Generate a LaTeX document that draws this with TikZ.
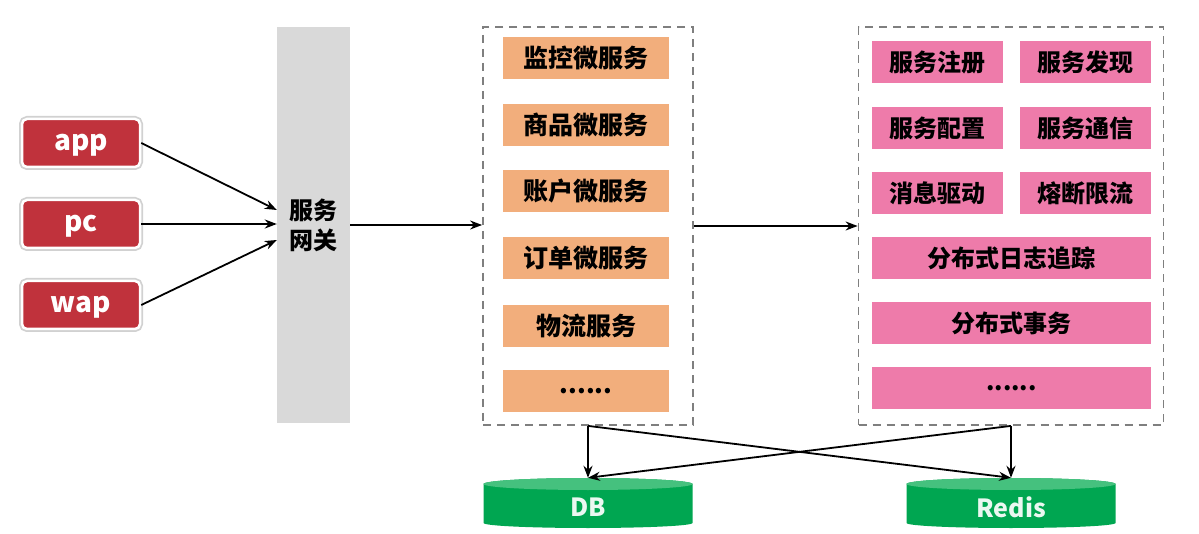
\documentclass[tikz,border=0pt]{standalone}
\usepackage{fontspec}
\setmainfont{Noto Sans CJK SC}
\usetikzlibrary{arrows.meta}
\definecolor{clientred}{HTML}{C0323C}
\definecolor{gwgray}{HTML}{D9D9D9}
\definecolor{svcorange}{HTML}{F2AE7C}
\definecolor{cmppink}{HTML}{EE7BAA}
\definecolor{dbgreen}{HTML}{00A651}
\definecolor{dbtop}{HTML}{45C17E}
\definecolor{dashgray}{HTML}{7F7F7F}
\begin{document}
\begin{tikzpicture}[x=1pt,y=-1pt,
  client/.style={rounded corners=5pt, fill=clientred, draw=white, line width=2.5pt,
    preaction={draw=black!18, line width=6pt, rounded corners=5pt},
    minimum width=118pt, minimum height=48pt, inner sep=0pt,
    text height=22pt, text depth=7pt,
    text=white, font=\fontsize{28}{32}\selectfont\bfseries},
  gateway/.style={fill=gwgray, minimum width=73pt, minimum height=396pt, inner sep=0pt,
    align=center, font=\fontsize{24}{30}\selectfont\bfseries},
  group/.style={draw=dashgray, line width=1.8pt, dash pattern=on 8pt off 6pt, inner sep=0pt},
  svc/.style={fill=svcorange, minimum width=166pt, minimum height=42pt, inner sep=0pt,
    font=\fontsize{25}{30}\selectfont\bfseries},
  cmp/.style={fill=cmppink, minimum height=42pt, inner sep=0pt,
    font=\fontsize{24}{30}\selectfont\bfseries},
  store/.style={minimum width=209pt, minimum height=50pt, inner sep=0pt},
  storetext/.style={text=white!92!dbgreen, font=\fontsize{25}{30}\selectfont\bfseries},
  arr/.style={-{Stealth[length=12pt,width=9pt]}, line width=1.8pt, black}
]
\useasboundingbox[fill=white] (0,0) rectangle (1199,534);

% clients
\node[client] (app) at (81,143) {app};
\node[client] (pc)  at (81,224) {pc};
\node[client] (wap) at (81,305) {wap};

% gateway
\node[gateway] (gw) at (313.5,225) {服务\\网关};

% middle group
\node[group, minimum width=210pt, minimum height=398pt] (mid) at (588,226) {};
\node[svc] (s1) at (586,58)  {监控微服务};
\node[svc] (s2) at (586,125) {商品微服务};
\node[svc] (s3) at (586,191) {账户微服务};
\node[svc] (s4) at (586,258) {订单微服务};
\node[svc] (s5) at (586,326) {物流服务};
\node[svc] (s6) at (586,391) {......};

% right group
\node[group, minimum width=305pt, minimum height=398pt] (comp) at (1011,226) {};
\node[cmp, minimum width=131pt] (c1) at (937.5,62)  {服务注册};
\node[cmp, minimum width=131pt] (c2) at (1085.5,62) {服务发现};
\node[cmp, minimum width=131pt] (c3) at (937.5,128) {服务配置};
\node[cmp, minimum width=131pt] (c4) at (1085.5,128) {服务通信};
\node[cmp, minimum width=131pt] (c5) at (937.5,193) {消息驱动};
\node[cmp, minimum width=131pt] (c6) at (1085.5,193) {熔断限流};
\node[cmp, minimum width=279pt] (c7) at (1011.5,258) {分布式日志追踪};
\node[cmp, minimum width=279pt] (c8) at (1011.5,323) {分布式事务};
\node[cmp, minimum width=279pt] (c9) at (1011.5,388) {......};

% storage cylinders
\foreach \nm/\cx/\lbl in {db/588/DB, redis/1011/Redis}{
  \fill[dbgreen] (\cx-104.5,484) -- (\cx-104.5,523)
     arc[start angle=180, end angle=360, x radius=104.5pt, y radius=5pt]
     -- (\cx+104.5,484)
     arc[start angle=0, end angle=180, x radius=104.5pt, y radius=6pt] -- cycle;
  \fill[dbtop] (\cx,484) ellipse[x radius=104.5pt, y radius=6pt];
  \node[store] (\nm) at (\cx,503) {};
  \node[storetext] at (\cx,507) {\lbl};
}

% connectors
\draw[arr] (app.east) -- ([yshift=15pt]gw.west);
\draw[arr] (pc.east) -- (pc.east -| gw.west);
\draw[arr] (wap.east) -- ([yshift=-15pt]gw.west);
\draw[arr] (gw.east) -- (gw.east -| mid.west);
\draw[arr] (mid.east) -- (comp.west);
\draw[arr] (mid.south) -- (db.north);
\draw[arr] (mid.south) -- (redis.north);
\draw[arr] (comp.south) -- (redis.north);
\draw[arr] (comp.south) -- (db.north);
\end{tikzpicture}
\end{document}
